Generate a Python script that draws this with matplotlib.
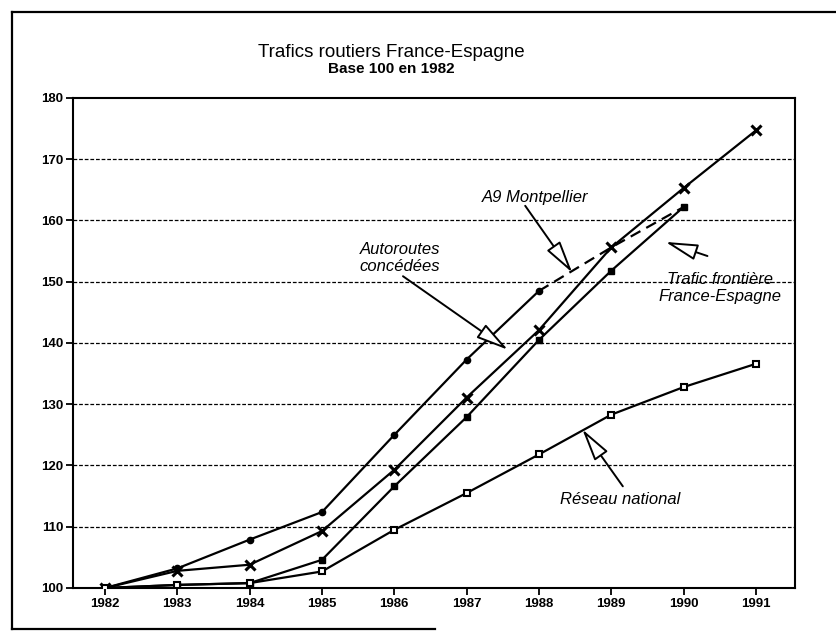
import numpy as np
import matplotlib.pyplot as plt
from matplotlib.lines import Line2D

# values (base 100 in 1982)
YEARS = [1982, 1983, 1984, 1985, 1986, 1987, 1988, 1989, 1990, 1991]
A9_MONTPELLIER = [100, 103.2, 107.9, 112.4, 125.0, 137.3, 148.5]
A9_ESTIMATE_YEARS = [1988, 1989, 1990]
A9_ESTIMATE = [148.5, 155.6, 162.2]
AUTOROUTES = [100, 102.8, 103.8, 109.3, 119.3, 131.1, 142.1, 155.6, 165.3, 174.7]
FRONTIERE = [100, 100.5, 100.8, 104.6, 116.6, 127.9, 140.5, 151.8, 162.2]
RESEAU = [100, 100.5, 100.8, 102.7, 109.5, 115.5, 121.8, 128.3, 132.8, 136.6]
Y_TICKS = [100, 110, 120, 130, 140, 150, 160, 170, 180]

TITLE = 'Trafics routiers France-Espagne'
SUBTITLE = 'Base 100 en 1982'

plt.rcParams['font.family'] = ['Liberation Sans', 'DejaVu Sans']


def arrow(ax, tip, tail):
    ax.annotate('', xy=tip, xytext=tail,
                arrowprops=dict(arrowstyle='-|>,head_length=1.0,head_width=0.25',
                                mutation_scale=20, fc='white', ec='black', lw=1.4,
                                shrinkA=0, shrinkB=0),
                zorder=5)


def label(ax, x, y, text):
    ax.text(x, y, text, ha='center', va='center', style='italic', fontsize=12,
            linespacing=1.15, zorder=6)


fig = plt.figure(figsize=(8.36, 6.33), dpi=100)
ax = fig.add_axes([0.0873, 0.0711, 0.8636, 0.7741])

n = len(A9_MONTPELLIER)
ax.plot(YEARS[:n], A9_MONTPELLIER, color='black', lw=1.6, marker='o', ms=4.5, zorder=3)
ax.plot(A9_ESTIMATE_YEARS, A9_ESTIMATE, color='black', lw=1.6, ls=(0, (5, 3)), zorder=3)
ax.plot(YEARS, AUTOROUTES, color='black', lw=1.6, marker='x', ms=6.5, mew=2.2, zorder=3)
n = len(FRONTIERE)
ax.plot(YEARS[:n], FRONTIERE, color='black', lw=1.6, marker='s', ms=4.5, zorder=3)
ax.plot(YEARS, RESEAU, color='black', lw=1.6, marker='s', ms=5, mfc='white', mew=1.5, zorder=3)

arrow(ax, (1988.46, 151.5), (1987.81, 162.4))
label(ax, 1987.95, 163.7, 'A9 Montpellier')

arrow(ax, (1987.57, 138.9), (1986.12, 150.9))
label(ax, 1986.08, 153.9, 'Autoroutes\nconcédées')

arrow(ax, (1989.75, 156.5), (1990.33, 154.2))
label(ax, 1990.51, 149.0, 'Trafic frontière\nFrance-Espagne')

arrow(ax, (1988.6, 125.9), (1989.16, 116.6))
label(ax, 1989.12, 114.5, 'Réseau national')

ax.set_xlim(1981.557, 1991.54)
ax.set_ylim(100, 180)
ax.set_xticks(YEARS)
ax.set_yticks(Y_TICKS)
for t in ax.get_xticklabels() + ax.get_yticklabels():
    t.set_fontweight('bold')
    t.set_fontsize(9.5)
ax.tick_params(direction='out', length=5, width=1.3, pad=2)

for y in Y_TICKS[1:-1]:
    ax.axhline(y, color='black', lw=0.9, ls=(0, (3, 1.5)), zorder=1)

for s in ax.spines.values():
    s.set_linewidth(1.5)

fig.text(0.468, 0.910, TITLE, ha='center', va='baseline', fontsize=13.5)
fig.text(0.468, 0.885, SUBTITLE, ha='center', va='baseline', fontsize=11, fontweight='bold')

# outer frame of the scanned page (open on the right)
fig.add_artist(Line2D([0.0144, 0.0144], [0.0063, 0.981], color='black', lw=1.6,
                      transform=fig.transFigure))
fig.add_artist(Line2D([0.0144, 1.0], [0.981, 0.981], color='black', lw=1.6,
                      transform=fig.transFigure))
fig.add_artist(Line2D([0.0144, 0.52], [0.0063, 0.0063], color='black', lw=1.6,
                      transform=fig.transFigure))

fig.savefig('out.png', dpi=100)
